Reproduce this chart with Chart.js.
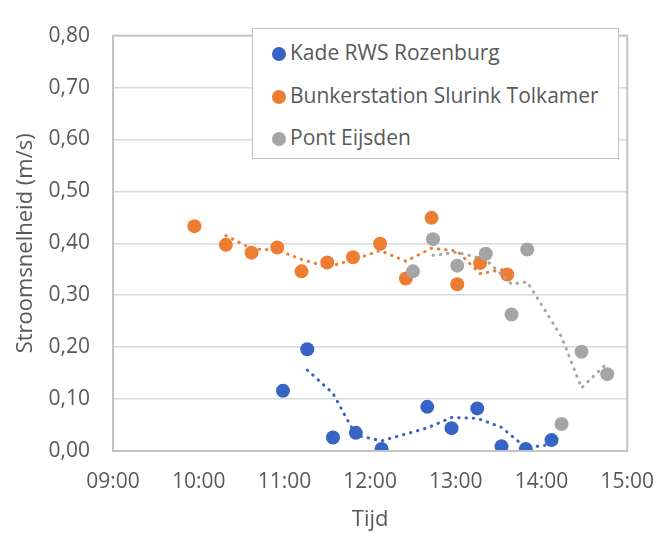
<!DOCTYPE html>
<html>
<head>
<meta charset="utf-8">
<script src="https://cdn.jsdelivr.net/npm/chart.js@4"></script>
<style>
  body { margin: 0; background: #fff; }
  #wrap { position: relative; width: 672px; height: 534px; }
  #legend {
    position: absolute; left: 252px; top: 28px; width: 367px; height: 131px;
    border: 1.5px solid #c3c3c3; background: #fff; box-sizing: border-box;
    font-family: 'Open Sans', sans-serif; font-size: 21px; color: #595959;
  }
  #legend div { position: absolute; left: 19px; height: 26px; line-height: 26px; white-space: nowrap; }
  #legend span.dot { display: inline-block; width: 14px; height: 14px; border-radius: 50%; vertical-align: -1px; margin-right: 4px; }
</style>
</head>
<body>
<div id="wrap">
  <canvas id="chart" width="672" height="534"></canvas>
  <div id="legend"></div>
</div>
<script>
//meetpunten (tijd, stroomsnelheid m/s)
const kadeTijd = ['10:59','11:16','11:34','11:50','12:08','12:40','12:57','13:15','13:32','13:49','14:07'];
const kadeWaarde = [0.116,0.196,0.026,0.035,0.004,0.085,0.044,0.082,0.009,0.004,0.021];

const bunkerTijd = ['09:57','10:19','10:37','10:55','11:12','11:30','11:48','12:07','12:25','12:43','13:01','13:17','13:36'];
const bunkerWaarde = [0.433,0.397,0.382,0.392,0.346,0.363,0.373,0.399,0.332,0.449,0.321,0.362,0.340];

const pontTijd = ['12:30','12:44','13:01','13:21','13:39','13:50','14:14','14:28','14:46'];
const pontWaarde = [0.346,0.408,0.357,0.380,0.263,0.388,0.052,0.191,0.148];

const reeksNamen = ['Kade RWS Rozenburg','Bunkerstation Slurink Tolkamer','Pont Eijsden'];
const kleuren = ['#3763c6','#ed7d31','#a5a5a5'];

//tijd "hh:mm" -> uren
function uren(t){
    const p = t.split(':');
    return Number(p[0]) + Number(p[1]) / 60;
}
function punten(tijden, waarden){
    return tijden.map((t, i) => ({x: uren(t), y: waarden[i]}));
}
//voortschrijdend gemiddelde (periode 2), zoals de Excel-trendlijn
function gemiddelde(pts){
    const out = [];
    for (let i = 1; i < pts.length; i++) {
        out.push({x: pts[i].x, y: (pts[i].y + pts[i-1].y) / 2});
    }
    return out;
}

const reeksen = [punten(kadeTijd, kadeWaarde), punten(bunkerTijd, bunkerWaarde), punten(pontTijd, pontWaarde)];

const datasets = [];
reeksen.forEach((pts, i) => {
    datasets.push({
        type: 'scatter', label: reeksNamen[i], data: pts,
        backgroundColor: kleuren[i], borderColor: kleuren[i],
        pointRadius: 7, pointHoverRadius: 7, borderWidth: 0, order: 3 - i + 3
    });
    datasets.push({
        type: 'line', label: reeksNamen[i] + ' trend', data: gemiddelde(pts),
        borderColor: kleuren[i], borderWidth: 3, borderDash: [0.5, 6.8], borderCapStyle: 'round',
        pointRadius: 0, fill: false, tension: 0, order: 3 - i
    });
});

//rand om het tekengebied
const kader = {
    id: 'kader',
    afterDraw(chart){
        const a = chart.chartArea, c = chart.ctx;
        c.save();
        c.strokeStyle = '#c3c3c3';
        c.lineWidth = 2;
        c.strokeRect(a.left, a.top, a.right - a.left, a.bottom - a.top);
        c.restore();
    }
};

const tekst = '#595959';
const lettertype = {family: "'Open Sans', sans-serif", size: 21};
const titelLetter = {family: "'Open Sans', sans-serif", size: 22};

new Chart(document.getElementById('chart').getContext('2d'), {
    data: {datasets: datasets},
    plugins: [kader],
    options: {
        responsive: false,
        animation: false,
        devicePixelRatio: 1,
        layout: {padding: {left: 0, top: 23, right: 44, bottom: 0}},
        plugins: {legend: {display: false}, tooltip: {enabled: false}},
        scales: {
            x: {
                type: 'linear', min: 9, max: 15,
                afterFit(scale){ scale.height = 83; },
                ticks: {
                    stepSize: 1, padding: 18, color: tekst, font: lettertype, maxRotation: 0,
                    callback: v => (v < 10 ? '0' : '') + v + ':00'
                },
                grid: {display: false, drawTicks: false},
                border: {display: false},
                title: {display: true, text: 'Tijd', color: tekst, font: titelLetter, padding: {top: 0, bottom: 1}}
            },
            y: {
                min: 0, max: 0.8,
                afterFit(scale){ scale.width = 113; },
                ticks: {
                    stepSize: 0.1, padding: 23, color: tekst, font: lettertype,
                    callback: v => v.toFixed(2).replace('.', ',')
                },
                grid: {color: '#d9d9d9', lineWidth: 1.5, drawTicks: false},
                border: {display: false},
                title: {display: true, text: 'Stroomsnelheid (m/s)', color: tekst, font: titelLetter, padding: {top: 13, bottom: 0}}
            }
        }
    }
});

//legenda in het tekengebied
const legenda = document.getElementById('legend');
reeksNamen.forEach((naam, i) => {
    const rij = document.createElement('div');
    rij.style.top = (10 + i * 42.5) + 'px';
    rij.innerHTML = '<span class="dot" style="background:' + kleuren[i] + '"></span>' + naam;
    legenda.appendChild(rij);
});
</script>
</body>
</html>
